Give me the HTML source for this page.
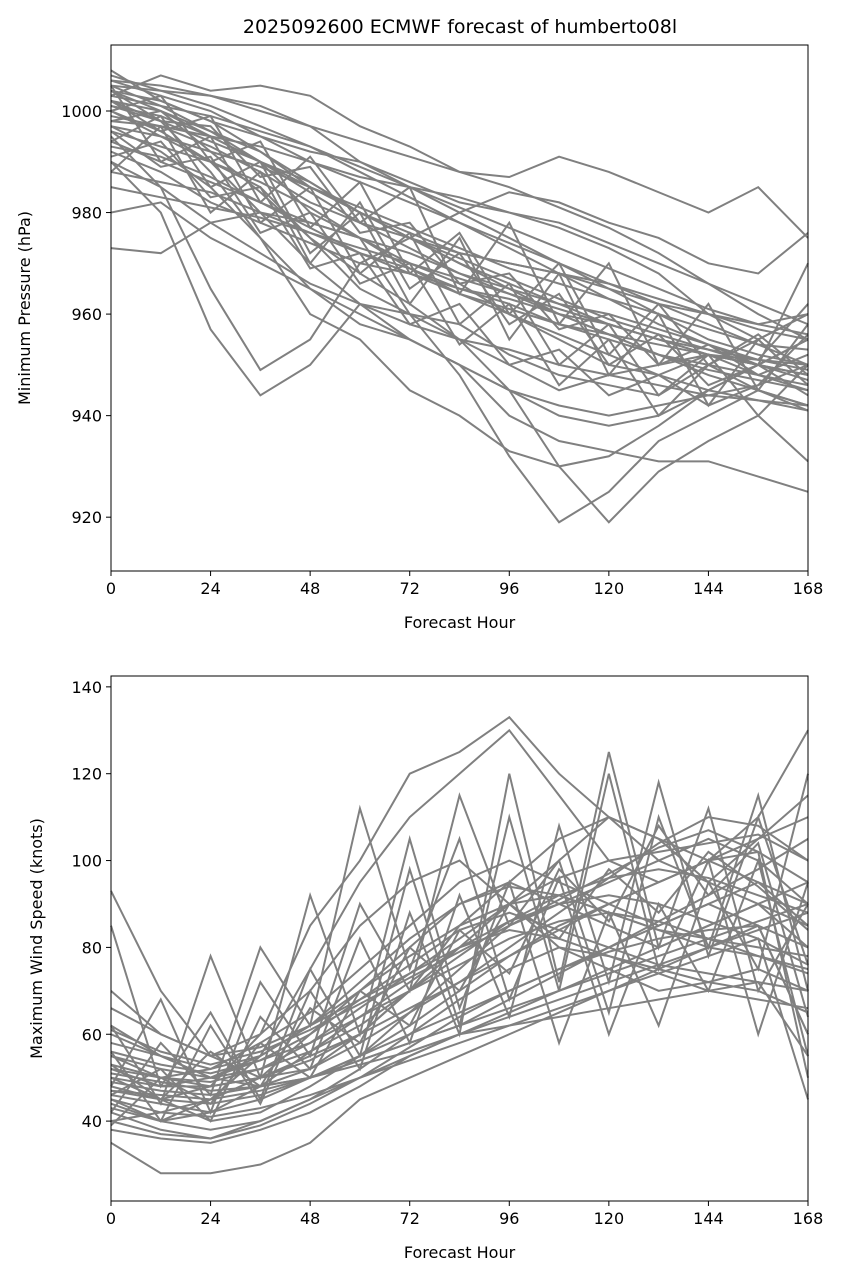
<!DOCTYPE html>
<html><head><meta charset="utf-8"><style>
body{margin:0;background:#fff;font-family:"Liberation Sans","DejaVu Sans",sans-serif}
svg{display:block}
</style></head><body>
<svg id="chart" width="843" height="1279" xmlns="http://www.w3.org/2000/svg" font-family="DejaVu Sans, Liberation Sans, sans-serif"></svg>
<script>
const hours=[0,12,24,36,48,60,72,84,96,108,120,132,144,156,168];
const xTicks=[0,24,48,72,96,120,144,168];
const pTicks=[920,940,960,980,1000];
const wTicks=[40,60,80,100,120,140];
const pressureSeries=[
[1005,1004,1003,1001,997,990,985,980,975,970,965,960,955,952,950],
[1003,1007,1004,1005,1003,997,993,988,987,991,988,984,980,985,975],
[1008,1002,998,992,985,980,975,970,965,960,958,955,952,950,948],
[1000,995,990,985,975,965,960,955,950,945,948,950,952,948,945],
[995,985,965,949,955,970,975,980,984,982,978,975,970,968,976],
[990,980,957,944,950,962,960,958,952,948,946,944,950,955,960],
[1002,998,988,975,960,955,945,940,933,930,932,938,945,950,955],
[998,1000,995,990,980,975,960,948,932,919,925,935,940,945,942],
[1004,1000,992,984,975,968,962,955,945,930,919,929,935,940,931],
[980,982,975,970,965,958,955,950,945,942,940,942,944,946,950],
[973,972,978,980,978,975,970,966,960,955,950,948,952,950,955],
[1000,996,990,980,970,962,955,950,940,935,933,931,931,928,925],
[997,992,985,975,965,960,955,950,945,940,938,940,945,950,955],
[1006,1003,1000,995,990,987,985,983,980,977,973,968,960,955,960],
[999,997,993,988,982,978,975,972,970,968,966,962,958,954,950],
[1001,999,995,990,986,980,975,970,966,962,958,955,952,950,948],
[994,990,986,982,978,975,972,968,965,962,960,957,954,950,947],
[992,988,982,978,974,970,968,965,963,960,956,952,948,945,942],
[1004,1002,998,995,992,990,986,982,980,978,974,970,966,962,958],
[996,993,990,986,981,975,969,964,960,956,952,948,945,943,941],
[1007,1004,1001,997,993,988,983,978,973,968,963,958,954,951,949],
[988,986,984,980,976,972,969,965,962,958,955,952,950,948,946],
[1002,1000,996,992,986,980,976,972,970,968,965,962,960,958,956],
[990,985,978,972,966,962,958,955,953,950,948,946,944,943,942],
[998,997,995,993,990,986,982,978,974,970,966,963,960,957,955],
[1005,1001,996,990,984,978,973,968,964,960,956,952,949,947,945],
[985,983,981,979,976,973,970,967,964,961,958,955,953,951,950],
[1003,1001,999,996,993,989,985,981,977,973,969,965,961,958,960],
[993,991,987,982,977,972,968,964,961,958,956,954,952,951,962],
[1001,998,994,990,985,980,975,971,967,963,959,956,953,950,970],
[997,995,992,989,985,981,977,973,969,966,963,960,957,954,953],
[1006,1005,1003,1000,997,994,991,988,985,981,977,972,966,960,955],
[1002,996,999,982,991,978,985,964,978,958,970,950,962,945,958],
[994,999,985,990,972,980,962,975,955,968,948,960,942,955,946],
[1005,990,995,978,985,968,976,958,966,950,958,944,952,940,950],
[988,997,980,988,970,982,965,972,958,964,950,956,946,950,944],
[1000,1003,990,994,977,986,968,976,960,970,952,962,950,956,948],
[996,989,991,976,980,966,970,954,962,946,955,940,950,945,941],
[1004,998,997,987,989,976,978,966,968,957,960,950,954,948,952],
[991,994,983,985,969,972,958,962,950,953,944,948,942,946,956]
];
const windSeries=[
[93,70,55,50,52,60,70,85,95,105,110,105,100,95,90],
[45,40,45,55,75,95,110,120,130,115,100,95,100,110,130],
[50,45,48,60,85,100,120,125,133,120,110,100,95,105,115],
[35,28,28,30,35,45,50,55,60,65,70,75,80,85,80],
[40,42,45,50,60,70,80,90,95,90,85,80,85,90,85],
[55,50,52,58,65,75,85,95,100,95,90,85,90,95,85],
[48,45,40,42,48,55,65,75,85,90,95,100,105,100,90],
[52,48,50,55,62,70,78,85,90,92,88,84,80,78,75],
[46,44,42,45,50,55,62,70,78,85,90,95,100,105,110],
[60,55,50,48,50,55,60,68,75,80,78,75,72,70,65],
[70,60,55,60,70,85,95,100,90,80,75,70,72,75,70],
[44,40,38,40,45,50,55,60,65,70,75,80,85,90,95],
[50,48,48,50,55,60,70,80,90,100,110,105,95,90,80],
[42,38,36,40,45,52,60,65,70,75,80,85,90,85,60],
[55,52,50,54,60,68,76,84,88,84,80,76,74,72,70],
[47,45,44,46,50,54,58,62,66,70,74,78,82,86,90],
[62,55,50,52,56,62,70,78,86,92,96,98,96,92,88],
[38,36,35,38,42,48,55,60,62,64,66,68,70,72,55],
[53,50,49,52,58,66,74,82,90,96,100,102,104,106,100],
[45,42,41,43,46,50,54,58,62,66,70,74,78,82,45],
[58,55,52,55,62,72,82,90,94,92,88,84,82,80,78],
[49,47,46,48,52,58,65,72,80,88,96,104,110,108,100],
[43,40,42,48,56,64,72,80,84,82,78,74,70,68,66],
[66,60,55,57,62,68,74,80,86,90,92,90,86,82,76],
[51,49,47,48,50,54,58,62,68,74,80,86,92,98,105],
[47,46,45,47,50,53,56,60,64,68,72,76,80,84,88],
[56,53,51,54,58,64,70,76,82,86,88,86,82,78,74],
[40,37,36,39,44,50,57,64,70,75,79,82,84,85,60],
[52,50,48,50,54,60,66,72,78,84,90,95,100,102,95],
[61,56,53,56,61,67,73,79,85,91,97,103,107,102,50],
[85,48,65,45,75,55,98,62,110,70,120,75,100,60,95],
[48,68,42,72,55,90,70,115,85,100,65,110,80,115,70],
[56,40,62,44,70,52,88,60,120,72,125,80,112,70,90],
[42,58,46,80,62,112,75,105,68,96,60,90,70,100,55],
[62,44,78,50,92,60,105,66,95,58,88,62,95,75,120],
[46,52,40,64,52,82,58,92,64,108,72,118,78,110,76],
[53,45,56,48,66,58,80,70,90,82,98,88,102,94,84],
[39,50,44,58,50,70,62,84,74,98,86,108,92,104,64]
];
const svg=document.getElementById('chart');
const NS='http://www.w3.org/2000/svg';
function mk(tag,attrs,parent){const e=document.createElementNS(NS,tag);for(const k in attrs)e.setAttribute(k,attrs[k]);(parent||svg).appendChild(e);return e;}
function panel(cfg){
  const g=mk('g',{});
  
  
  const x=h=>cfg.x0+(h-0)/168*(cfg.x1-cfg.x0);
  const y=v=>cfg.yb+(v-cfg.vmin)/(cfg.vmax-cfg.vmin)*(cfg.yt-cfg.yb);
  cfg.series.forEach(s=>{
    const p=mk('polyline',{points:s.map((v,i)=>x(hours[i])+','+y(v)).join(' '),fill:'none',stroke:'#808080','stroke-width':2},g);
    
    
  });
  const box=mk('rect',{x:cfg.x0,y:cfg.yt,width:cfg.x1-cfg.x0,height:cfg.yb-cfg.yt,fill:'none',stroke:'#000','stroke-width':1},g);
  
  
  xTicks.forEach(t=>{
    mk('line',{x1:x(t),x2:x(t),y1:cfg.yb,y2:cfg.yb+5,stroke:'#000'},g);
    const tx=mk('text',{x:x(t),y:cfg.yb+23,'text-anchor':'middle','font-size':16},g);tx.textContent=t;
    
    
  });
  cfg.ticks.forEach(t=>{
    mk('line',{x1:cfg.x0-5,x2:cfg.x0,y1:y(t),y2:y(t),stroke:'#000'},g);
    const tx=mk('text',{x:cfg.x0-9,y:y(t)+6,'text-anchor':'end','font-size':16},g);tx.textContent=t;
    
    
  });
  const xl=mk('text',{x:(cfg.x0+cfg.x1)/2,y:cfg.yb+57,'text-anchor':'middle','font-size':16},g);xl.textContent='Forecast Hour';
  
  
  const cy=(cfg.yt+cfg.yb)/2;
  const yl=mk('text',{x:cfg.ylx,y:cy,'text-anchor':'middle','font-size':16,transform:`rotate(-90 ${cfg.ylx} ${cy})`},g);yl.textContent=cfg.ylabel;
  
  
}
const title=mk('text',{x:460,y:33,'text-anchor':'middle','font-size':19});
title.textContent='2025092600 ECMWF forecast of humberto08l';


panel({name:'pressure-panel',x0:111,x1:808,yt:45,yb:571,vmin:909.4,vmax:1013,series:pressureSeries,ticks:pTicks,ylabel:'Minimum Pressure (hPa)',ylx:30});
panel({name:'wind-panel',x0:111,x1:808,yt:676,yb:1201,vmin:21.6,vmax:142.5,series:windSeries,ticks:wTicks,ylabel:'Maximum Wind Speed (knots)',ylx:42});
</script>
</body></html>
